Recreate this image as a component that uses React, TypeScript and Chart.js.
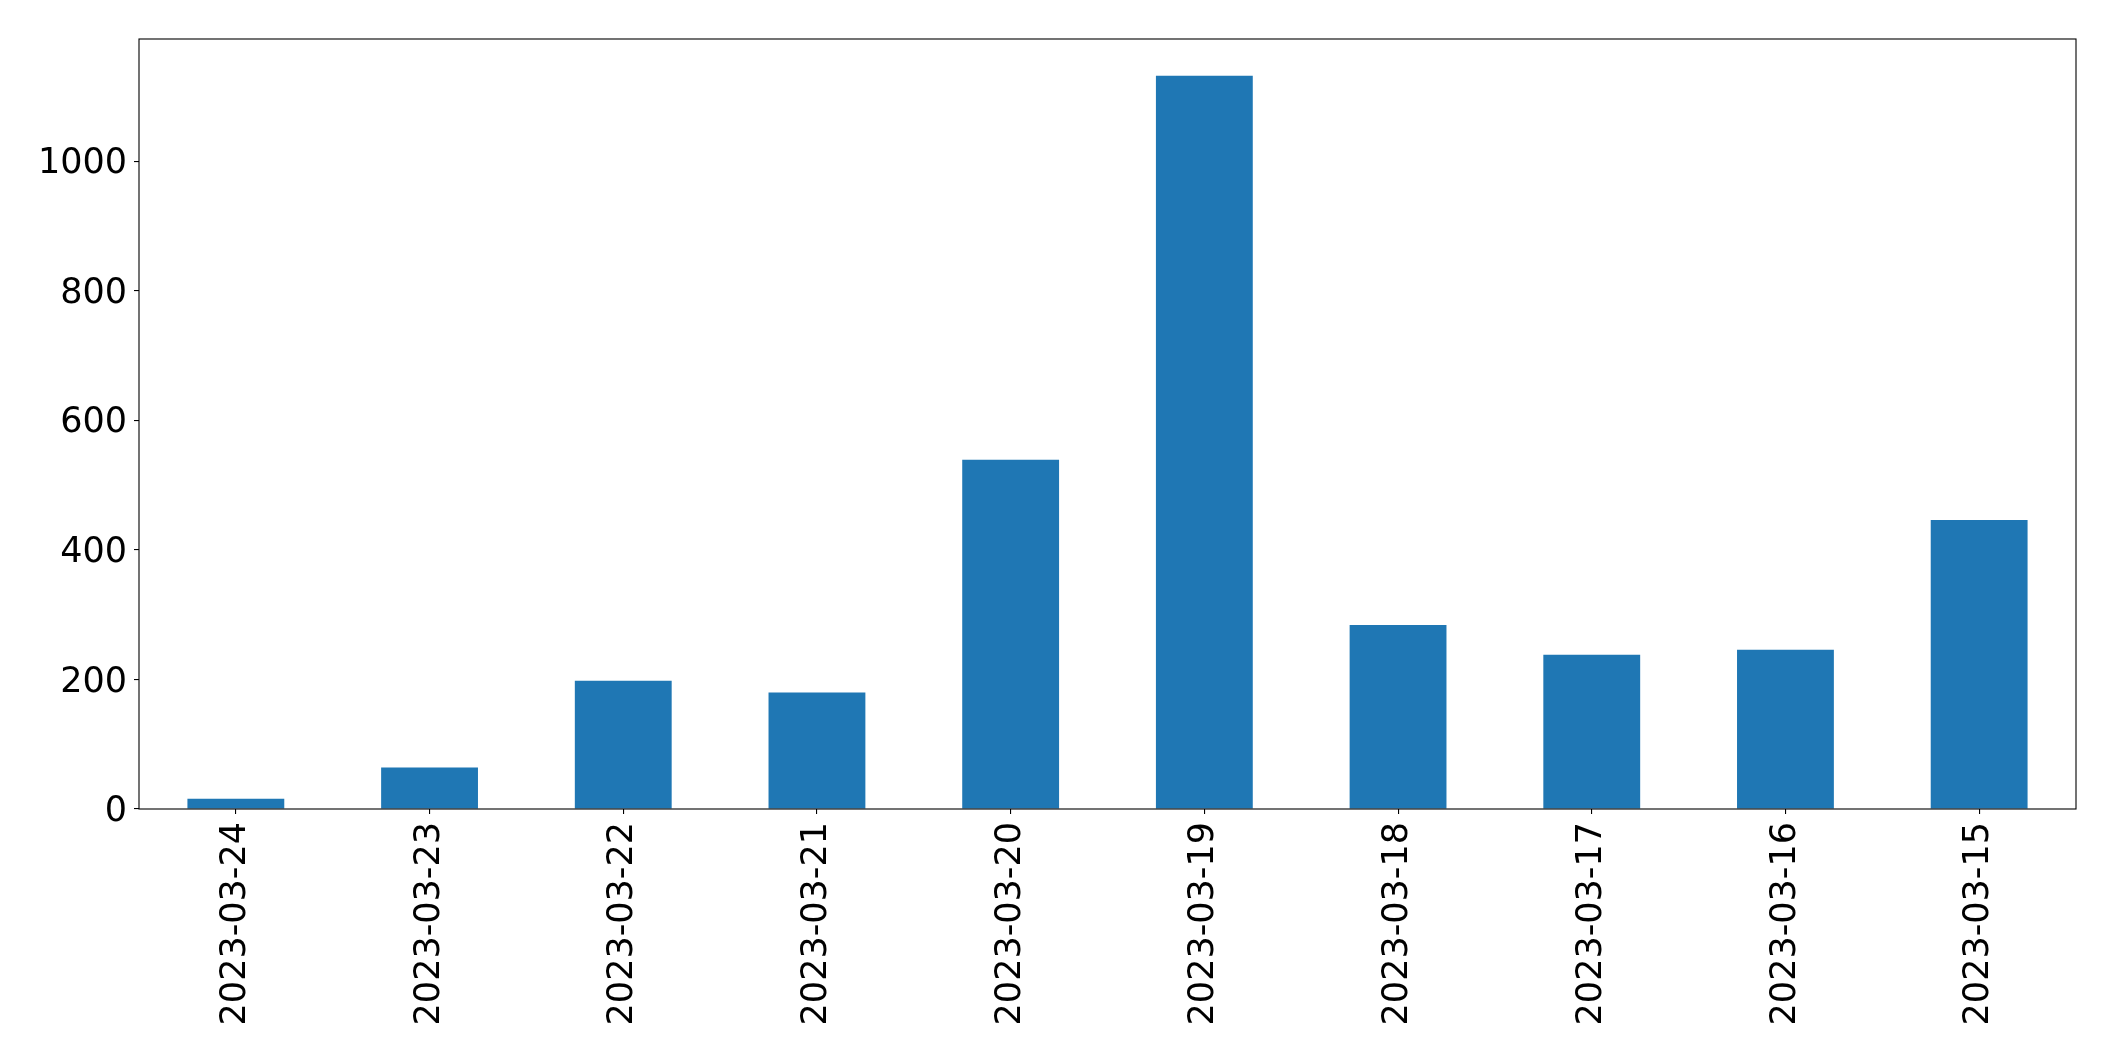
import React, { useEffect, useRef } from "react";
import { Chart, registerables } from "chart.js";

Chart.register(...registerables);

const categories: string[] = [
  "2023-03-24",
  "2023-03-23",
  "2023-03-22",
  "2023-03-21",
  "2023-03-20",
  "2023-03-19",
  "2023-03-18",
  "2023-03-17",
  "2023-03-16",
  "2023-03-15",
];

const counts: number[] = [16, 64, 198, 180, 539, 1132, 284, 238, 246, 446];

const yTicks: number[] = [0, 200, 400, 600, 800, 1000];

const W = 2115;
const H = 1061;

const framePlugin = {
  id: "frame",
  afterDraw(chart: any) {
    const { ctx, chartArea } = chart;
    ctx.save();
    ctx.strokeStyle = "#000";
    ctx.lineWidth = 1.1;
    ctx.strokeRect(
      chartArea.left,
      chartArea.top,
      chartArea.right - chartArea.left,
      chartArea.bottom - chartArea.top
    );
    ctx.restore();
  },
};

export default function App() {
  const ref = useRef<HTMLCanvasElement | null>(null);

  useEffect(() => {
    document.body.style.margin = "0";
    const canvas = ref.current;
    if (!canvas) return;
    const font = { family: "'DejaVu Sans', sans-serif", size: 35 };
    const yMax = Math.max(...counts) * 1.05;
    const chart = new Chart(canvas, {
      type: "bar",
      data: {
        labels: categories,
        datasets: [
          {
            data: counts,
            backgroundColor: "#1f77b4",
            borderWidth: 0,
            barPercentage: 0.5,
            categoryPercentage: 1,
          },
        ],
      },
      options: {
        animation: false,
        responsive: false,
        devicePixelRatio: 1,
        layout: { padding: { top: 39, right: 39, left: 0, bottom: 0 } },
        plugins: {
          legend: { display: false },
          tooltip: { enabled: false },
        },
        scales: {
          x: {
            type: "category",
            offset: true,
            border: { display: false },
            grid: {
              offset: false,
              drawOnChartArea: false,
              drawTicks: true,
              tickLength: 5,
              color: "#000",
              lineWidth: 1.1,
            },
            ticks: {
              color: "#000",
              font,
              minRotation: 90,
              maxRotation: 90,
              autoSkip: false,
              padding: 8,
            },
            afterFit(scale: any) {
              scale.height = H - 809;
            },
          },
          y: {
            type: "linear",
            min: 0,
            max: yMax,
            border: { display: false },
            grid: {
              drawOnChartArea: false,
              drawTicks: true,
              tickLength: 5,
              color: "#000",
              lineWidth: 1.1,
            },
            ticks: {
              color: "#000",
              font,
              padding: 7,
              labelOffset: 3,
              stepSize: 200,
              includeBounds: false,
              callback: (v: any) => String(v),
            },
            afterBuildTicks(scale: any) {
              scale.ticks = yTicks.map((v) => ({ value: v }));
            },
            afterFit(scale: any) {
              scale.width = 139;
            },
          },
        },
      },
      plugins: [framePlugin],
    });
    return () => chart.destroy();
  }, []);

  return (
    <div style={{ position: "absolute", left: 0, top: 0, width: W, height: H, background: "#fff" }}>
      <canvas ref={ref} width={W} height={H} style={{ width: W, height: H, display: "block" }} />
    </div>
  );
}
